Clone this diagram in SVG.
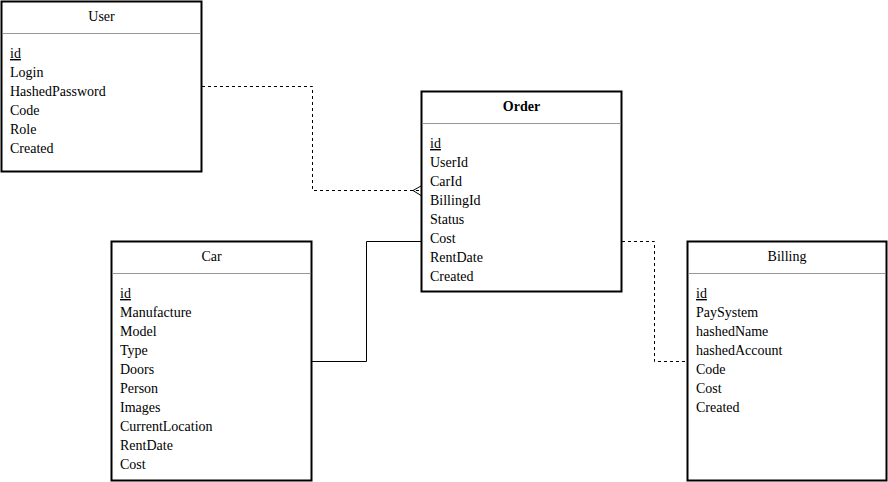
<svg xmlns="http://www.w3.org/2000/svg" width="888" height="482" viewBox="0 0 888 482">
<style>
.box{fill:#fff;stroke:#000;stroke-width:2}
.sep{stroke:#999;stroke-width:1}
text{font-family:"Liberation Serif","Times New Roman",serif;font-size:14px;fill:#000}
.title{text-anchor:middle}
.bold{font-weight:bold}
.u{text-decoration:underline}
.dash{fill:none;stroke:#000;stroke-width:1;stroke-dasharray:3 3}
.solid{fill:none;stroke:#000;stroke-width:1}
</style>
<rect width="888" height="482" fill="#fff"/>
<g id="connectors">
<path class="dash" d="M202,86.5 H312.5 V190.5 H420"/>
<path class="solid" d="M413,190.5 L421,186 M413,190.5 L421,195.5"/>
<path class="solid" d="M312,361.5 H366.5 V241.5 H421"/>
<path class="dash" d="M622,241.5 H654.5 V361.5 H687"/>
</g>
<g id="User">
<rect class="box" x="1.5" y="1.5" width="200" height="170"/>
<line class="sep" x1="2.5" y1="33.5" x2="200.5" y2="33.5"/>
<text class="title" x="101.5" y="21">User</text>
<text x="10" y="58" class="u">id</text>
<text x="10" y="77">Login</text>
<text x="10" y="96">HashedPassword</text>
<text x="10" y="115">Code</text>
<text x="10" y="134">Role</text>
<text x="10" y="153">Created</text>
</g>
<g id="Order">
<rect class="box" x="421.5" y="91.5" width="200" height="200"/>
<line class="sep" x1="422.5" y1="123.5" x2="620.5" y2="123.5"/>
<text class="title bold" x="521.5" y="111">Order</text>
<text x="430" y="148" class="u">id</text>
<text x="430" y="167">UserId</text>
<text x="430" y="186">CarId</text>
<text x="430" y="205">BillingId</text>
<text x="430" y="224">Status</text>
<text x="430" y="243">Cost</text>
<text x="430" y="262">RentDate</text>
<text x="430" y="281">Created</text>
</g>
<g id="Car">
<rect class="box" x="111.5" y="241.5" width="200" height="239"/>
<line class="sep" x1="112.5" y1="273.5" x2="310.5" y2="273.5"/>
<text class="title" x="211.5" y="261">Car</text>
<text x="120" y="298" class="u">id</text>
<text x="120" y="317">Manufacture</text>
<text x="120" y="336">Model</text>
<text x="120" y="355">Type</text>
<text x="120" y="374">Doors</text>
<text x="120" y="393">Person</text>
<text x="120" y="412">Images</text>
<text x="120" y="431">CurrentLocation</text>
<text x="120" y="450">RentDate</text>
<text x="120" y="469">Cost</text>
</g>
<g id="Billing">
<rect class="box" x="687.5" y="241.5" width="199" height="239"/>
<line class="sep" x1="688.5" y1="273.5" x2="885.5" y2="273.5"/>
<text class="title" x="787" y="261">Billing</text>
<text x="696" y="298" class="u">id</text>
<text x="696" y="317">PaySystem</text>
<text x="696" y="336">hashedName</text>
<text x="696" y="355">hashedAccount</text>
<text x="696" y="374">Code</text>
<text x="696" y="393">Cost</text>
<text x="696" y="412">Created</text>
</g>
</svg>
